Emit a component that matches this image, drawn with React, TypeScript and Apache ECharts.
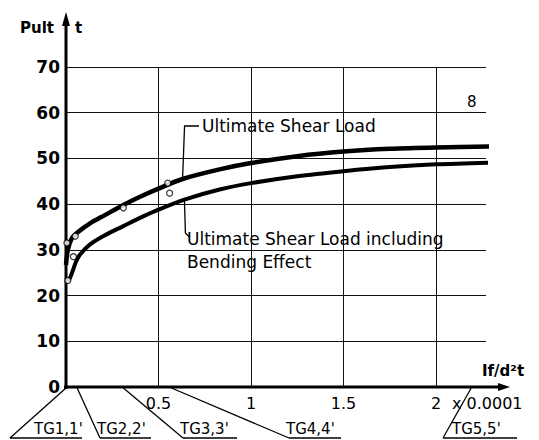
import React, { useEffect, useRef } from "react";
import * as echarts from "echarts";

// Upper curve: Ultimate Shear Load
const topX = [0, 0.01, 0.03, 0.065, 0.13, 0.21, 0.31, 0.4, 0.5, 0.63, 0.83, 1.0, 1.25, 1.5, 1.75, 2.0, 2.3];
const topY = [26.7, 30.0, 32.4, 33.9, 35.8, 37.6, 39.8, 41.6, 43.4, 45.5, 47.6, 49.0, 50.5, 51.5, 52.1, 52.4, 52.6];

// Lower curve: Ultimate Shear Load including Bending Effect
const lowX = [0.011, 0.022, 0.038, 0.054, 0.076, 0.13, 0.21, 0.31, 0.4, 0.5, 0.64, 0.83, 1.0, 1.25, 1.5, 1.75, 2.0, 2.3];
const lowY = [23.2, 23.9, 25.6, 27.4, 29.0, 31.2, 33.2, 35.2, 37.0, 38.8, 41.0, 43.2, 44.6, 46.1, 47.2, 48.1, 48.7, 49.1];

// Test points (hollow circles)
const testX = [0.01, 0.005, 0.05, 0.04, 0.31, 0.55, 0.56];
const testY = [23.3, 31.5, 33.0, 28.5, 39.2, 44.6, 42.4];

// Specimen labels along the x axis
const tgLabels = ["TG1,1'", "TG2,2'", "TG3,3'", "TG4,4'", "TG5,5'"];
const tgX = [0, 0.06, 0.31, 0.57, 2.19];

const xGrid = [0.5, 1, 1.5, 2];
const yTicks = [0, 10, 20, 30, 40, 50, 60, 70];

const FONT = "DejaVu Sans";

export default function App() {
  const ref = useRef<HTMLDivElement>(null);

  useEffect(() => {
    if (!ref.current) return;
    const chart = echarts.init(ref.current, null, { renderer: "svg" });
    const zip = (xs: number[], ys: number[]) => xs.map((x, i) => [x, ys[i]]);

    chart.setOption({
      animation: false,
      backgroundColor: "#fff",
      grid: { left: 66, right: 53, top: 67, bottom: 53 },
      xAxis: {
        type: "value",
        min: 0,
        max: 2.27,
        interval: 0.5,
        axisLine: { show: false },
        axisTick: { show: false },
        splitLine: { show: false },
        axisLabel: {
          margin: 8,
          color: "#000",
          fontFamily: FONT,
          fontSize: 16,
          showMaxLabel: false,
          formatter: (v: number) => (v === 0 || xGrid.indexOf(v) < 0 ? "" : String(v)),
        },
      },
      yAxis: {
        type: "value",
        min: yTicks[0],
        max: yTicks[yTicks.length - 1],
        interval: 10,
        axisLine: { show: false },
        axisTick: { show: false },
        splitLine: { show: true, lineStyle: { color: "#111", width: 1 } },
        axisLabel: {
          margin: 6,
          color: "#000",
          fontFamily: FONT,
          fontWeight: "bold",
          fontSize: 17,
        },
      },
      series: [
        {
          type: "line",
          data: zip(topX, topY),
          smooth: 0.3,
          showSymbol: false,
          clip: false,
          lineStyle: { color: "#000", width: 4.5 },
          z: 3,
        },
        {
          type: "line",
          data: zip(lowX, lowY),
          smooth: 0.3,
          showSymbol: false,
          clip: false,
          lineStyle: { color: "#000", width: 4 },
          z: 3,
          markLine: {
            silent: true,
            symbol: ["none", "none"],
            label: { show: false },
            lineStyle: { color: "#111", width: 1, type: "solid" },
            data: xGrid.map((v) => ({ xAxis: v })),
            z: 1,
          },
        },
        {
          type: "scatter",
          data: zip(testX, testY),
          symbol: "circle",
          symbolSize: 6,
          itemStyle: { color: "#fff", borderColor: "#000", borderWidth: 1.2 },
          z: 5,
        },
      ],
    });

    const p = (x: number, y: number) => chart.convertToPixel({ gridIndex: 0 }, [x, y]) as number[];
    const o = p(0, 0);
    const black = { stroke: "#000" };
    const g: any[] = [];

    // axes with arrows
    g.push({ type: "line", shape: { x1: o[0], y1: o[1] + 2, x2: o[0], y2: 20 }, style: { ...black, lineWidth: 3 } });
    g.push({ type: "polygon", shape: { points: [[o[0] - 4, 26], [o[0] + 4, 26], [o[0], 12]] }, style: { fill: "#000" } });
    g.push({ type: "line", shape: { x1: o[0] - 2, y1: o[1], x2: 502, y2: o[1] }, style: { ...black, lineWidth: 3 } });
    g.push({ type: "polygon", shape: { points: [[498, o[1] - 4], [498, o[1] + 4], [510, o[1]]] }, style: { fill: "#000" } });

    const txt = (text: string, x: number, y: number, size: number, weight = "normal", align = "left") => ({
      type: "text",
      x,
      y,
      style: { text, fill: "#000", font: `${weight} ${size}px "${FONT}"`, textAlign: align, textVerticalAlign: "middle" },
    });

    g.push(txt("Pult", 20, 28, 15, "bold"));
    g.push(txt("t", 75, 28, 15, "bold"));
    g.push(txt("8", 467, 102, 15));
    g.push(txt("If/d²t", 482, 371, 15, "bold"));
    g.push(txt("x 0.0001", 452, 403, 16));

    // annotation: upper curve
    const aTop = p(topX[9], topY[9]);
    g.push({ type: "polyline", shape: { points: [[aTop[0], aTop[1]], [aTop[0] + 2, 126], [199, 126]] }, style: { ...black, lineWidth: 1.3, fill: null } });
    g.push(txt("Ultimate Shear Load", 202, 126, 17));

    // annotation: lower curve
    const aLow = p(lowX[10], lowY[10]);
    g.push({ type: "polyline", shape: { points: [[aLow[0], aLow[1]], [aLow[0] + 1, 233], [aLow[0] + 5, 237]] }, style: { ...black, lineWidth: 1.3, fill: null } });
    g.push(txt("Ultimate Shear Load including", 187, 239, 17));
    g.push(txt("Bending Effect", 187, 262, 17));

    // specimen leaders
    const ends = [10, 100, 183, 289, 443];
    const widths = [72, 51, 54, 52, 74];
    const textX = [34, 97, 180, 286, 452];
    tgLabels.forEach((lab, i) => {
      const a = p(tgX[i], 0);
      g.push({ type: "line", shape: { x1: a[0], y1: a[1] + 1, x2: ends[i], y2: 438 }, style: { ...black, lineWidth: 1.3 } });
      g.push({ type: "line", shape: { x1: ends[i], y1: 438, x2: ends[i] + widths[i], y2: 438 }, style: { ...black, lineWidth: 1.3 } });
      g.push(txt(lab, textX[i], 429, 15));
    });

    chart.setOption({ graphic: g });

    return () => chart.dispose();
  }, []);

  return (
    <div
      ref={ref}
      style={{ position: "fixed", left: 0, top: 0, width: 539, height: 440, background: "#fff" }}
    />
  );
}
